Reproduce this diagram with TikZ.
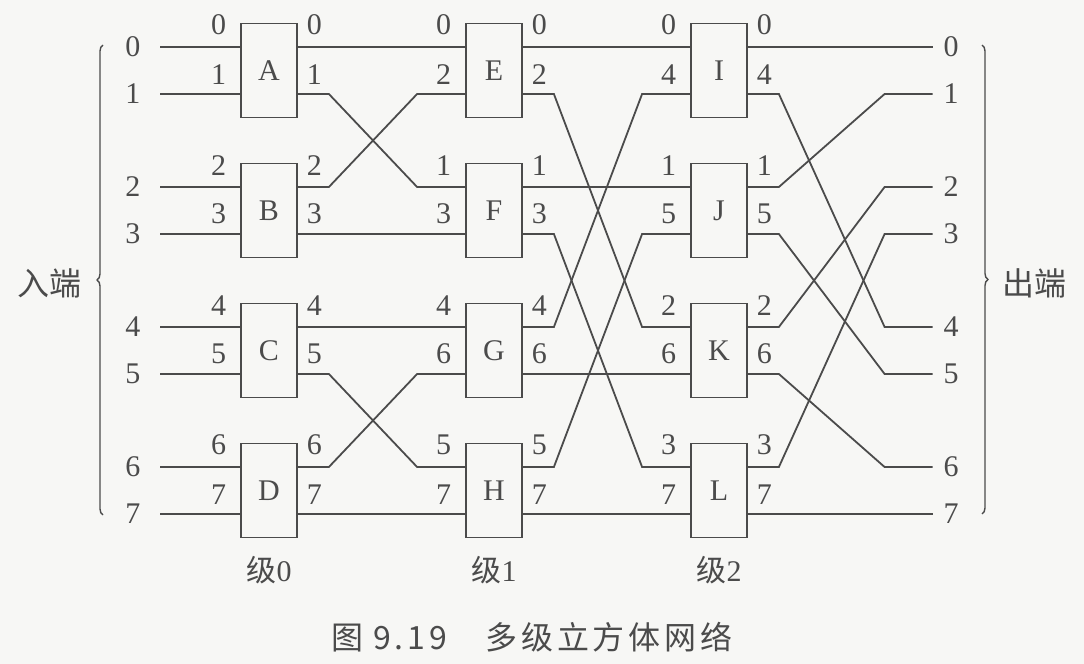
\documentclass[tikz,border=0pt]{standalone}
\usepackage{fontspec}
\setmainfont{Liberation Serif}
\newfontfamily\cjk{Noto Sans CJK SC}
\newfontfamily\capfont{Noto Sans CJK SC}[LetterSpace=12]
\usetikzlibrary{decorations.pathreplacing,calc}
\definecolor{ink}{RGB}{75,75,75}
\definecolor{paper}{RGB}{247,247,245}

\begin{document}
\begin{tikzpicture}[
    x=0.5pt, y=-0.5pt,
    color=ink, line width=0.9pt,
    every node/.style={font=\fontsize{15}{17}\selectfont},
    switch/.style={draw, rectangle, minimum width=28pt, minimum height=47pt, inner sep=0pt},
    port/.style={inner sep=0pt},
    term/.style={inner ysep=0pt, inner xsep=5pt},
    stagelbl/.style={font=\fontsize{15}{18}\selectfont},
    side/.style={font=\cjk\fontsize{16}{18}\selectfont},
    caption/.style={font=\capfont\fontsize{16}{18}\selectfont}
]
    \fill[paper] (0,0) rectangle (1084,664);
    \useasboundingbox (0,0) rectangle (1084,664);

    % Switch boxes and their ports
    \foreach \n/\s/\g/\p/\q in {A/0/0/0/1, B/0/1/2/3, C/0/2/4/5, D/0/3/6/7,
                                E/1/0/0/2, F/1/1/1/3, G/1/2/4/6, H/1/3/5/7,
                                I/2/0/0/4, J/2/1/1/5, K/2/2/2/6, L/2/3/3/7} {
        \node[switch] (\n) at ({269+225*\s}, {70.5+140*\g}) {\n};
        \coordinate (\n-ui) at ($(\n.west)+(0,-23.5)$);
        \coordinate (\n-li) at ($(\n.west)+(0,23.5)$);
        \coordinate (\n-uo) at ($(\n.east)+(0,-23.5)$);
        \coordinate (\n-lo) at ($(\n.east)+(0,23.5)$);
        \node[port, anchor=south east] at ($(\n-ui)+(-13,-11)$) {\p};
        \node[port, anchor=south east] at ($(\n-li)+(-13,-9)$) {\q};
        \node[port, anchor=south west] at ($(\n-uo)+(8,-11)$) {\p};
        \node[port, anchor=south west] at ($(\n-lo)+(8,-9)$) {\q};
    }

    % Input and output terminals
    \foreach \k in {0,...,7} {
        \node[term, inner xsep=9.5pt] (i\k) at (133, {47+140*floor(\k/2)+47*mod(\k,2)}) {\k};
        \node[term] (o\k) at (951, {47+140*floor(\k/2)+47*mod(\k,2)}) {\k};
    }

    % Wires
    \foreach \k/\t in {0/A-ui, 1/A-li, 2/B-ui, 3/B-li, 4/C-ui, 5/C-li, 6/D-ui, 7/D-li}
        \draw (i\k) -- (\t);
    \foreach \a/\b in {A-uo/E-ui, B-lo/F-li, C-uo/G-ui, D-lo/H-li,
                       E-uo/I-ui, F-uo/J-ui, G-lo/K-li, H-lo/L-li,
                       I-uo/o0.west, L-lo/o7.west}
        \draw (\a) -- (\b);
    \foreach \a/\b in {A-lo/F-ui, B-uo/E-li, C-lo/H-ui, D-uo/G-li,
                       E-lo/K-ui, F-lo/L-ui, G-uo/I-li, H-uo/J-li,
                       I-lo/o4.west, J-uo/o1.west, J-lo/o5.west,
                       K-uo/o2.west, K-lo/o6.west, L-uo/o3.west}
        \draw (\a) -- ++(31,0) -- ($(\b)+(-48,0)$) -- (\b);

    % Braces and labels
    \draw[decorate, decoration={brace, amplitude=3pt}, line width=0.7pt] (103,515) -- (103,45);
    \draw[decorate, decoration={brace, amplitude=3pt}, line width=0.7pt] (982,45) -- (982,514);
    \node[side] (inlbl) at (50,283) {入端};
    \node[side] (outlbl) at (1034,283) {出端};

    \foreach \s in {0,1,2}
        \node[stagelbl] (st\s) at ({269+225*\s}, 570) {{\cjk 级}\s};
    \node[caption] (cap) at (532,637) {图\hspace{0.3em}9.19\hspace{1.2em}多级立方体网络};
\end{tikzpicture}
\end{document}
